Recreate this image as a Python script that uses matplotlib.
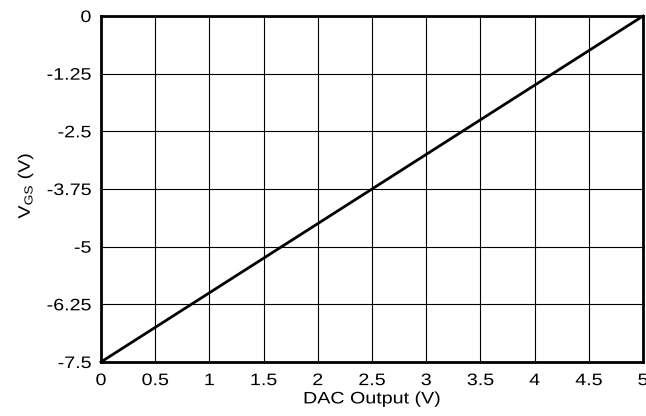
import matplotlib
matplotlib.use('Agg')
import matplotlib.pyplot as plt
from matplotlib.patheffects import AbstractPathEffect
from matplotlib.transforms import Affine2D

plt.rcParams['font.family'] = ['Liberation Sans', 'DejaVu Sans']
plt.rcParams['mathtext.fontset'] = 'custom'
plt.rcParams['mathtext.rm'] = 'Liberation Sans'

dac_out = [0, 5]
vgs = [-7.5, 0]
xticks = [0, 0.5, 1, 1.5, 2, 2.5, 3, 3.5, 4, 4.5, 5]
xlabels = ['0', '0.5', '1', '1.5', '2', '2.5', '3', '3.5', '4', '4.5', '5']
yticks = [-7.5, -6.25, -5, -3.75, -2.5, -1.25, 0]
ylabels = ['-7.5', '-6.25', '-5', '-3.75', '-2.5', '-1.25', '0']


class Stretch(AbstractPathEffect):
    # widen the glyphs like the original (text is drawn wider than normal)
    def __init__(self, sx=1.0, sy=1.0, anchor='center'):
        super().__init__()
        self.sx, self.sy, self.anchor = sx, sy, anchor

    def draw_path(self, renderer, gc, tpath, affine, rgbFace=None):
        bb = tpath.get_extents(affine)
        cx = bb.x1 if self.anchor == 'right' else (bb.x0 + bb.x1) / 2
        cy = (bb.y0 + bb.y1) / 2
        t = affine + Affine2D().translate(-cx, -cy).scale(self.sx, self.sy).translate(cx, cy)
        renderer.draw_path(gc, tpath, t, rgbFace)


fs = 12
sx = 1.18

fig = plt.figure(figsize=(6.46, 4.16), dpi=100)
ax = fig.add_axes([0.1563, 0.1298, 0.8391, 0.8317])

ax.plot(dac_out, vgs, color='black', lw=2, clip_on=False, zorder=3)
ax.set_xlim(0, 5)
ax.set_ylim(-7.5, 0)
ax.set_xticks(xticks)
ax.set_xticklabels(xlabels)
ax.set_yticks(yticks)
ax.set_yticklabels(ylabels)
ax.tick_params(length=0, labelsize=fs)
ax.tick_params(axis='x', pad=8)
ax.tick_params(axis='y', pad=7)
ax.grid(True, color='black', lw=0.8)
for s in ax.spines.values():
    s.set_linewidth(2)

ax.set_xlabel('DAC Output (V)', fontsize=fs)
ax.xaxis.set_label_coords(0.5, -0.085)
ax.set_ylabel(r'V$_{\mathrm{GS}}$ (V)', fontsize=fs)
ax.yaxis.set_label_coords(-0.122, 0.51)

for lab in ax.get_xticklabels():
    lab.set_path_effects([Stretch(sx=sx)])
for lab in ax.get_yticklabels():
    lab.set_path_effects([Stretch(sx=sx, anchor='right')])
ax.xaxis.label.set_path_effects([Stretch(sx=sx)])
ax.yaxis.label.set_path_effects([Stretch(sy=sx)])

fig.savefig('out.png', dpi=100)
